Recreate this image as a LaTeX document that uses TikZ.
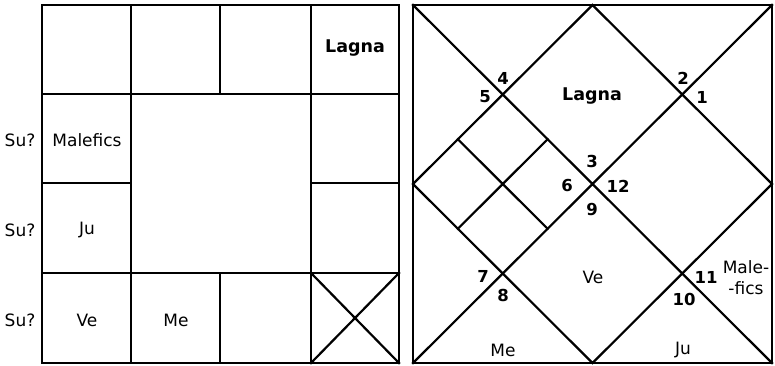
\documentclass[tikz,border=0pt]{standalone}
\usepackage{fontspec}
\setmainfont{DejaVu Sans}
\usetikzlibrary{calc}
\begin{document}
\begin{tikzpicture}[x=1pt,y=-1pt,
  gridline/.style={line width=2.2pt,line cap=rect},
  lbl/.style={inner sep=0pt,font=\fontsize{17}{20}\selectfont},
  blbl/.style={inner sep=0pt,font=\fontsize{17.5}{20}\selectfont\bfseries},
  num/.style={inner sep=0pt,font=\fontsize{16.5}{19}\selectfont\bfseries}]
\useasboundingbox (0,0) rectangle (775,366);
% ---------- left chart ----------
\coordinate (a0) at (42,5);   \coordinate (a4) at (399,5);
\coordinate (d0) at (42,363); \coordinate (d4) at (399,363);
\coordinate (x1t) at (131,5); \coordinate (x1b) at (131,363);
\coordinate (x3t) at (311,5); \coordinate (x3b) at (311,363);
\coordinate (y1l) at (42,94); \coordinate (y1r) at (399,94);
\coordinate (y3l) at (42,273); \coordinate (y3r) at (399,273);
\coordinate (x2t) at (220,5); \coordinate (x2m) at (220,94);
\coordinate (x2n) at (220,273); \coordinate (x2b) at (220,363);
\coordinate (y2l) at (42,183); \coordinate (y2m) at (131,183);
\coordinate (y2n) at (311,183); \coordinate (y2r) at (399,183);
\draw[gridline] (a0) rectangle (d4);
\draw[gridline] (x1t) -- (x1b) (x3t) -- (x3b) (y1l) -- (y1r) (y3l) -- (y3r)
  (x2t) -- (x2m) (x2n) -- (x2b) (y2l) -- (y2m) (y2n) -- (y2r);
\draw[gridline] (y3r -| x3t) -- (d4) (y3r) -- (x3b);
\node[blbl] (lagL) at (355,48) {Lagna};
\node[lbl] (su1) at (20,140) {Su?};
\node[lbl] (su2) at (20,230) {Su?};
\node[lbl] (su3) at (20,320) {Su?};
\node[lbl] (malL) at (87,140) {Malefics};
\node[lbl] (juL) at (87,230) {Ju};
\node[lbl] (veL) at (87,320) {Ve};
\node[lbl] (meL) at (176,320) {Me};
% ---------- right chart ----------
\coordinate (A) at (413,5);   \coordinate (B) at (772,5);
\coordinate (C) at (772,363); \coordinate (D) at (413,363);
\coordinate (T) at ($(A)!0.5!(B)$);
\coordinate (R) at ($(B)!0.5!(C)$);
\coordinate (Bm) at ($(D)!0.5!(C)$);
\coordinate (Lm) at ($(A)!0.5!(D)$);
\coordinate (O) at ($(A)!0.5!(C)$);
\coordinate (P45) at ($(A)!0.5!(O)$);
\coordinate (P78) at ($(D)!0.5!(O)$);
\coordinate (m1) at ($(Lm)!0.5!(P45)$);
\coordinate (m2) at ($(P45)!0.5!(O)$);
\coordinate (m3) at ($(O)!0.5!(P78)$);
\coordinate (m4) at ($(P78)!0.5!(Lm)$);
\draw[gridline] (A) rectangle (C);
\draw[gridline] (A) -- (C) (B) -- (D);
\draw[gridline] (T) -- (R) -- (Bm) -- (Lm) -- cycle;
\draw[gridline] (m1) -- (m3) (m2) -- (m4);
\node[num] (n4) at (503,78) {4};
\node[num] (n5) at (485,97) {5};
\node[blbl] (lagR) at (592,96) {Lagna};
\node[num] (n2) at (683,78) {2};
\node[num] (n1) at (702,97) {1};
\node[num] (n3) at (592,161) {3};
\node[num] (n6) at (567,186) {6};
\node[num] (n12) at (618,186) {12};
\node[num] (n9) at (592,210) {9};
\node[num] (n7) at (483,276) {7};
\node[num] (n8) at (503,295) {8};
\node[lbl] (veR) at (593,277) {Ve};
\node[num] (n11) at (706,277) {11};
\node[num] (n10) at (684,299) {10};
\node[lbl] (maleR) at (746,267) {Male-};
\node[lbl] (ficsR) at (746,288) {-fics};
\node[lbl] (meR) at (503,350) {Me};
\node[lbl] (juR) at (683,350) {Ju};
\end{tikzpicture}
\end{document}
